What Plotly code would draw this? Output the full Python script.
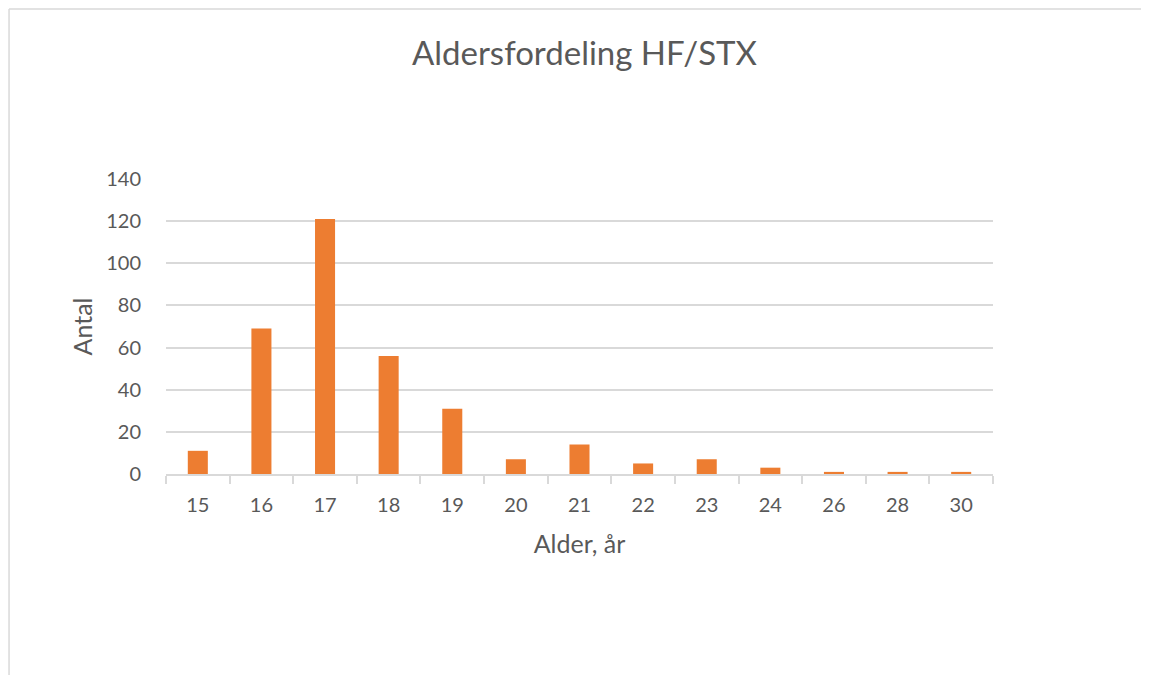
import plotly.graph_objects as go

# Aldersfordeling HF/STX
ages = ["15", "16", "17", "18", "19", "20", "21", "22", "23", "24", "26", "28", "30"]
counts = [11, 69, 121, 56, 31, 7, 14, 5, 7, 3, 1, 1, 1]
y_ticks = [0, 20, 40, 60, 80, 100, 120, 140]

text_color = "#595959"
grid_color = "#D9D9D9"
bar_color = "#ED7D31"
font_family = "Lato, 'Open Sans', sans-serif"

# the page body has an 8px margin, so shift everything by that
W, H = 1133, 667

fig = go.Figure(
    go.Bar(
        x=ages,
        y=counts,
        marker=dict(color=bar_color, line=dict(width=0)),
        hoverinfo="x+y",
    )
)

# chart frame: only the top and left edges are visible in the picture
frame = dict(type="line", xref="paper", yref="paper", layer="below",
             line=dict(color=grid_color, width=1.5))

fig.update_layout(
    width=W,
    height=H,
    paper_bgcolor="white",
    plot_bgcolor="white",
    margin=dict(l=158, r=148, t=171, b=201),
    bargap=0.685,
    showlegend=False,
    font=dict(family=font_family, color=text_color, size=18),
    title=dict(
        text="Aldersfordeling HF/STX",
        x=0.506,
        xanchor="center",
        xref="paper",
        y=1 - 45 / H,
        yref="container",
        yanchor="middle",
        font=dict(size=33, color=text_color, family=font_family),
    ),
    xaxis=dict(
        type="category",
        showline=True,
        linecolor=grid_color,
        linewidth=1.5,
        ticks="outside",
        tickson="boundaries",
        ticklen=8,
        tickcolor=grid_color,
        tickwidth=1.5,
        showgrid=False,
        ticklabelstandoff=12,
        tickfont=dict(size=20, color=text_color),
        title=dict(text="Alder, år", font=dict(size=25, color=text_color), standoff=21),
    ),
    yaxis=dict(
        range=[0, 140],
        tickvals=y_ticks,
        showgrid=True,
        gridcolor=grid_color,
        gridwidth=1.5,
        zeroline=False,
        showline=False,
        ticks="",
        ticklabelstandoff=24,
        tickfont=dict(size=20, color=text_color),
        title=dict(text="Antal", font=dict(size=25, color=text_color), standoff=6),
    ),
    shapes=[
        dict(frame, x0=-0.1898, x1=1.5, y0=1.576, y1=1.576),
        dict(frame, x0=-0.1898, x1=-0.1898, y0=-0.8, y1=1.576),
    ],
)

fig.write_html("out.html")
